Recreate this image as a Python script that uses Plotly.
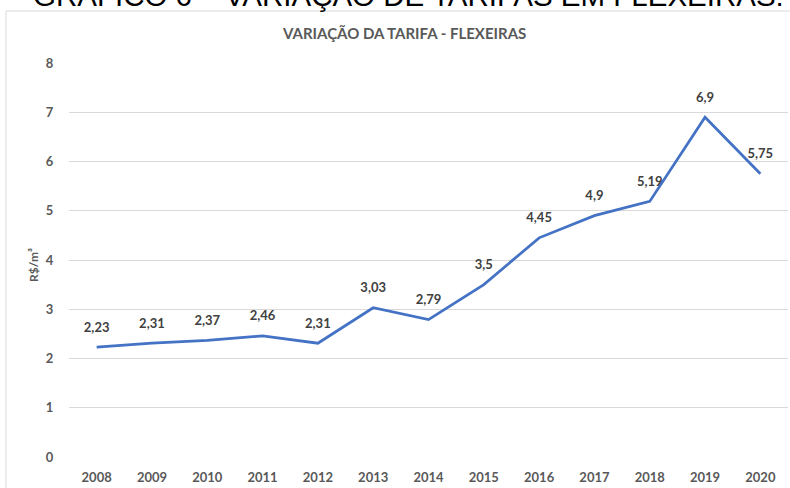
import plotly.graph_objects as go

# data
anos = ["2008", "2009", "2010", "2011", "2012", "2013", "2014",
        "2015", "2016", "2017", "2018", "2019", "2020"]
tarifa = [2.23, 2.31, 2.37, 2.46, 2.31, 3.03, 2.79,
          3.5, 4.45, 4.9, 5.19, 6.9, 5.75]
rotulos = [str(v).replace(".", ",") for v in tarifa]

W, H = 790, 488
L, R, T, B = 69, 2, 63, 31
pw, ph = W - L - R, H - T - B


def px(x):
    return (x - L) / pw


def py(y):
    return (H - B - y) / ph


fig = go.Figure()
fig.add_trace(go.Scatter(
    x=anos, y=tarifa, mode="lines+markers+text",
    line=dict(color="#4472C4", width=2.75),
    marker=dict(size=18, opacity=0),
    text=rotulos, textposition="top center",
    textfont=dict(family="Lato", size=13, color="#404040", weight="bold"),
    cliponaxis=False, hoverinfo="skip", showlegend=False,
))

fig.update_layout(
    width=W, height=H,
    margin=dict(l=L, r=R, t=T, b=B),
    paper_bgcolor="white", plot_bgcolor="white",
    font=dict(family="Lato", color="#595959"),
    xaxis=dict(
        range=[-0.5, 12.5],
        showgrid=False, zeroline=False, showline=False,
        ticks="outside", ticklen=8, tickcolor="white",
        tickfont=dict(size=13, color="#595959", weight="bold"),
    ),
    yaxis=dict(
        range=[0, 8], dtick=1, showgrid=True, gridcolor="#D9D9D9",
        gridwidth=1, zeroline=False, showline=False,
        ticks="outside", ticklen=12, tickcolor="white",
        tickfont=dict(size=13, color="#595959", weight="bold"),
    ),
    shapes=[dict(
        type="rect", xref="paper", yref="paper",
        x0=px(6), x1=px(800), y0=py(500), y1=py(11),
        line=dict(color="#D9D9D9", width=1), layer="below",
    )],
    annotations=[
        dict(text="GRÁFICO 6 – VARIAÇÃO DE TARIFAS EM FLEXEIRAS:",
             xref="paper", yref="paper", x=px(31), y=py(14),
             xanchor="left", yanchor="bottom", showarrow=False,
             font=dict(family="Liberation Sans", size=29.5, color="black")),
        dict(text="<b>VARIAÇÃO DA TARIFA - FLEXEIRAS</b>",
             xref="paper", yref="paper", x=px(404), y=py(33),
             xanchor="center", yanchor="middle", showarrow=False,
             font=dict(family="Lato", size=15, color="#595959")),
        dict(text="<b>R$/m³</b>", textangle=-90,
             xref="paper", yref="paper", x=px(33), y=py(265),
             xanchor="center", yanchor="middle", showarrow=False,
             font=dict(family="Lato", size=12, color="#595959")),
    ],
)

fig.write_html("out.html", config={"displayModeBar": False},
               post_script="document.body.style.margin='0';")
